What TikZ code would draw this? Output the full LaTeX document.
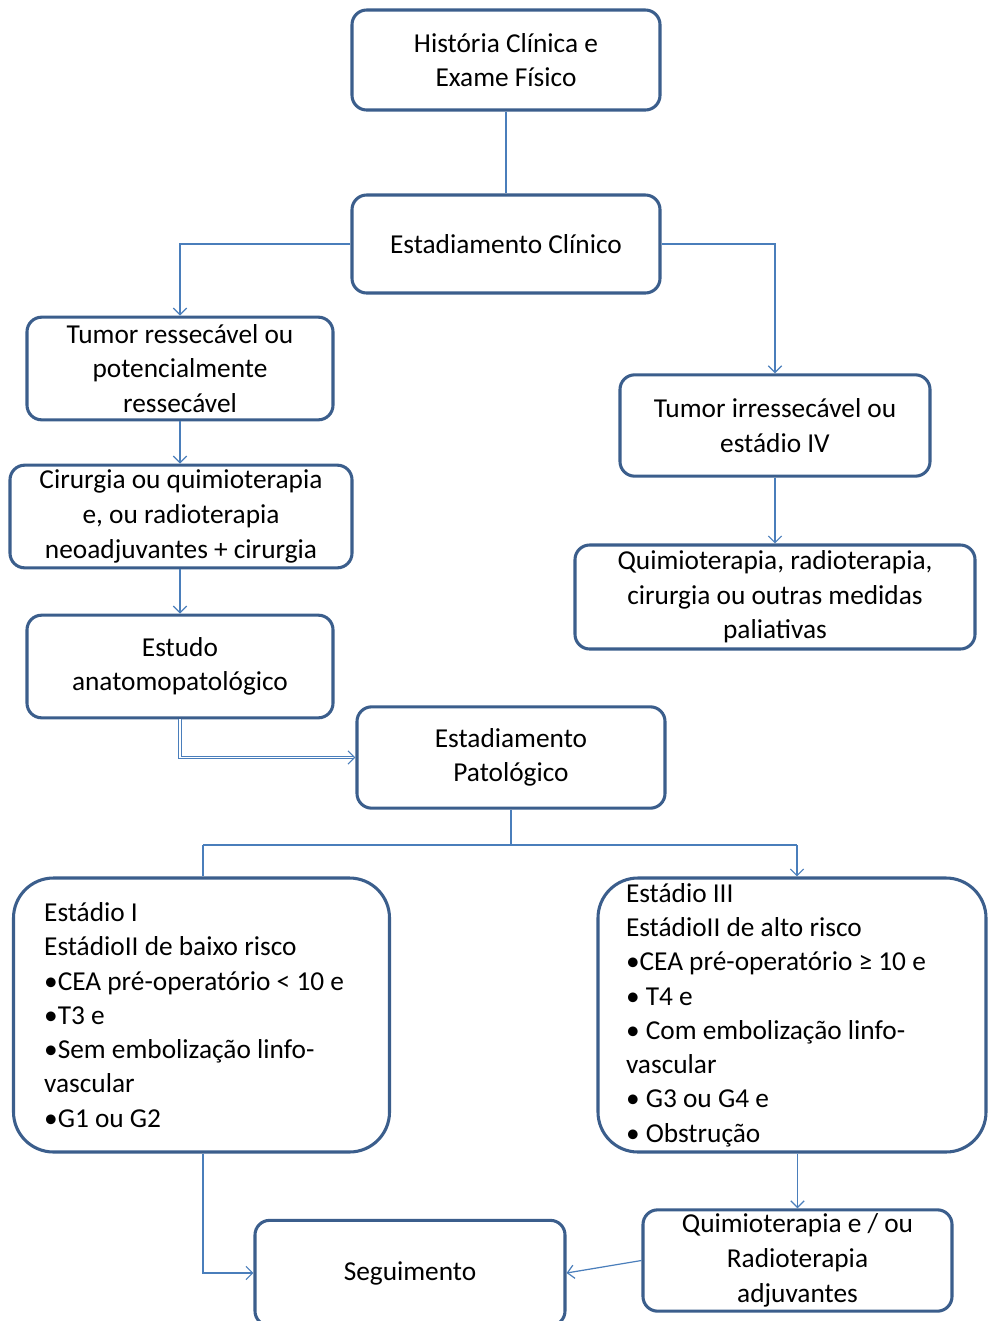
\documentclass[tikz,border=0pt]{standalone}
\usepackage{fontspec}
\setmainfont{Carlito}
\usetikzlibrary{arrows.meta,calc}
\definecolor{boxline}{HTML}{3B5E8C}
\definecolor{connline}{HTML}{4A7EBB}
\tikzset{
  box/.style={draw=boxline, line width=2.3pt, rounded corners=11pt, fill=white,
    align=center, inner sep=2pt, font=\fontsize{20.5pt}{26pt}\selectfont},
  bigbox/.style={draw=boxline, line width=2.3pt, rounded corners=30pt, fill=white,
    align=flush left, font=\fontsize{20.5pt}{25.7pt}\selectfont},
  conn/.style={draw=connline, line width=0.9pt},
  arr/.style={conn, -{Straight Barb[length=5pt,width=10pt,line width=0.9pt]}},
  arrdbl/.style={draw=connline, line width=0.7pt, double=white, double distance=1.4pt,
    -{Straight Barb[length=5pt,width=10pt,line width=0.8pt]}},
}
\begin{document}
\begin{tikzpicture}[x=0.75pt,y=-0.75pt]
\useasboundingbox[fill=white] (0,0) rectangle (989,1321);
\node[box, minimum width=231pt, minimum height=75pt] (hist) at (506,60) {História Clínica e\\Exame Físico};
\node[box, minimum width=231pt, minimum height=73.5pt] (clin) at (506,244) {Estadiamento Clínico};
\node[box, minimum width=229.5pt, minimum height=77pt] (tres) at (180,368.5) {Tumor ressecável ou\\potencialmente\\ressecável};
\node[box, minimum width=256.5pt, minimum height=77pt] (cir) at (181,516.5) {Cirurgia ou quimioterapia\\e, ou radioterapia\\neoadjuvantes + cirurgia};
\node[box, minimum width=229.5pt, minimum height=77pt] (est) at (180,666.5) {Estudo\\anatomopatológico};
\node[box, minimum width=232.5pt, minimum height=76pt] (tirr) at (775,425.5) {Tumor irressecável ou\\estádio IV};
\node[box, minimum width=300pt, minimum height=78pt] (pal) at (775,597) {Quimioterapia, radioterapia,\\cirurgia ou outras medidas\\paliativas};
\node[box, minimum width=231pt, minimum height=76pt] (pat) at (511,757.5) {Estadiamento\\Patológico};
\node[bigbox, inner xsep=23pt, text width=236pt, minimum height=205.5pt] (e1) at (201.5,1015)
  {Estádio I\\EstádioII de baixo risco\\•CEA pré-operatório < 10 e\\•T3 e\\•Sem embolização linfo-\\vascular\\•G1 ou G2};
\node[bigbox, inner xsep=21pt, text width=249pt, minimum height=205.5pt] (e3) at (792,1015)
  {Estádio III\\EstádioII de alto risco\\•CEA pré-operatório ≥ 10 e\\• T4 e\\• Com embolização linfo-\\vascular\\• G3 ou G4 e\\• Obstrução};
\node[box, minimum width=231.75pt, minimum height=76pt] (adj) at (797.5,1260.5) {Quimioterapia e / ou\\Radioterapia\\adjuvantes};
\node[box, minimum width=232.5pt, minimum height=79pt] (seg) at (410,1273) {Seguimento};
\coordinate (jl) at (203,845);
\coordinate (jr) at (797,845);
\draw[conn] (hist.south) -- (clin.north);
\draw[arr] (clin.west) -| (tres.north);
\draw[arr] (clin.east) -| (tirr.north);
\draw[arr] (tres.south) -- (tres.south |- cir.north);
\draw[arr] (est.north |- cir.south) -- (est.north);
\draw[arr] (tirr.south) -- (pal.north);
\draw[arrdbl] (est.south) |- (pat.west);
\draw[conn] (pat.south) -- (pat.south |- jl);
\draw[conn] (jl) -- (jr);
\draw[conn] (jl) -- (jl |- e1.north);
\draw[arr] (jr) -- (jr |- e3.north);
\draw[arr] (jl |- e1.south) |- (seg.west);
\draw[arr] (adj.north |- e3.south) -- (adj.north);
\draw[arr] (adj.west) -- (seg.east);
\end{tikzpicture}
\end{document}
